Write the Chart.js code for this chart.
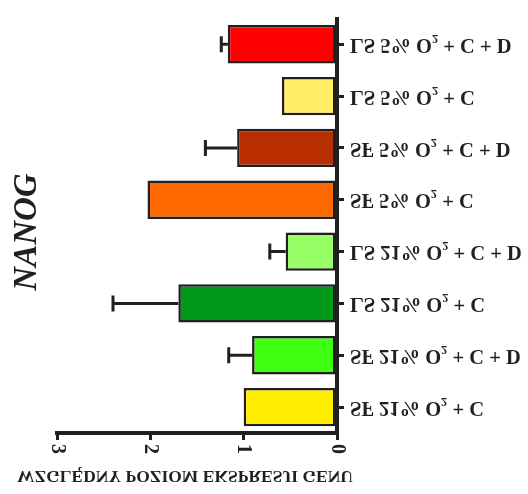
<!DOCTYPE html>
<html>
<head>
<meta charset="utf-8">
<script src="https://cdn.jsdelivr.net/npm/chart.js@4/dist/chart.umd.min.js"></script>
<style>
  html, body { margin: 0; padding: 0; background: #fff; }
  /* the reference is drawn upside down: flip the whole canvas */
  #chart { display: block; transform: scaleY(-1); }
</style>
</head>
<body>
<canvas id="chart" width="528" height="494"></canvas>
<script>
// dane (kolejnosc od dolu wykresu)
const categories = ['SF 21% O₂ + C', 'SF 21% O₂ + C + D', 'LS 21% O₂ + C', 'LS 21% O₂ + C + D',
                    'SF 5% O₂ + C', 'SF 5% O₂ + C + D', 'LS 5% O₂ + C', 'LS 5% O₂ + C + D'];
const means = [1.00, 0.91, 1.70, 0.55, 2.03, 1.07, 0.59, 1.17];
const errors = [0, 0.25, 0.70, 0.17, 0, 0.34, 0, 0.07];
const barColors = ['#FFEE00', '#3FFF12', '#00991A', '#99FF66', '#FF6A00', '#B82E00', '#FFEE66', '#FF0000'];
const valueTicks = [0, 1, 2, 3];
const chartTitle = 'NANOG';
const axisTitle = 'WZGLĘDNY POZIOM EKSPRESJI GENU';

const ink = '#231F20';
const serif = '"Liberation Serif", "Times New Roman", serif';

//Barras de error y textos rotados
const extrasPlugin = {
    id: 'extras',
    afterDatasetsDraw(chart) {
        const ctx = chart.ctx;
        const xs = chart.scales.x;
        const meta = chart.getDatasetMeta(0);
        ctx.save();
        ctx.strokeStyle = ink;
        ctx.lineWidth = 3;
        for (let i = 0; i < means.length; i++) {
            if (!errors[i]) continue;
            const y = meta.data[i].y;
            const x0 = xs.getPixelForValue(means[i]);
            const x1 = xs.getPixelForValue(means[i] + errors[i]);
            ctx.beginPath();
            ctx.moveTo(x0, y);
            ctx.lineTo(x1, y);
            ctx.moveTo(x1, y - 8);
            ctx.lineTo(x1, y + 8);
            ctx.stroke();
        }
        ctx.restore();
    },
    afterDraw(chart) {
        const ctx = chart.ctx;
        const xs = chart.scales.x;
        ctx.save();
        ctx.fillStyle = ink;
        ctx.textAlign = 'center';
        ctx.textBaseline = 'middle';
        // titulo del eje de valores
        ctx.font = 'bold 17.5px ' + serif;
        ctx.fillText(axisTitle, 185, 18);
        // etiquetas del eje de valores, giradas
        ctx.font = 'bold 20px ' + serif;
        valueTicks.forEach(v => {
            ctx.save();
            ctx.translate(xs.getPixelForValue(v), 45);
            ctx.transform(0, -1, -1, 0, 0, 0);
            ctx.fillText(String(v), 0, 0);
            ctx.restore();
        });
        // titulo NANOG
        ctx.font = 'italic bold 33px ' + serif;
        ctx.translate(27, 262);
        ctx.transform(0, 1, 1, 0, 0, 0);
        ctx.fillText(chartTitle, 0, 0);
        ctx.restore();
    }
};

new Chart(document.getElementById('chart'), {
    type: 'bar',
    data: {
        labels: categories,
        datasets: [{
            data: means,
            backgroundColor: barColors,
            borderColor: ink,
            borderWidth: 2.5,
            borderSkipped: false,
            categoryPercentage: 1,
            barPercentage: 0.74
        }]
    },
    options: {
        indexAxis: 'y',
        responsive: false,
        animation: false,
        devicePixelRatio: 1,
        layout: { padding: { left: 57, right: 0, top: 0, bottom: 12 } },
        plugins: { legend: { display: false }, tooltip: { enabled: false } },
        scales: {
            x: {
                position: 'top',
                reverse: true,
                min: 0,
                max: 3,
                afterFit: s => { s.height = 61; },
                ticks: { display: false, stepSize: 1 },
                grid: { drawOnChartArea: false, tickLength: 7, lineWidth: 3, color: ink },
                border: { color: ink, width: 4 }
            },
            y: {
                position: 'right',
                afterFit: s => { s.width = 191; },
                ticks: {
                    color: ink,
                    padding: 6,
                    font: { family: serif, size: 20.5, weight: 'bold' }
                },
                grid: { drawOnChartArea: false, offset: false, tickLength: 7, lineWidth: 3, color: ink },
                border: { color: ink, width: 4 }
            }
        }
    },
    plugins: [extrasPlugin]
});
</script>
</body>
</html>
